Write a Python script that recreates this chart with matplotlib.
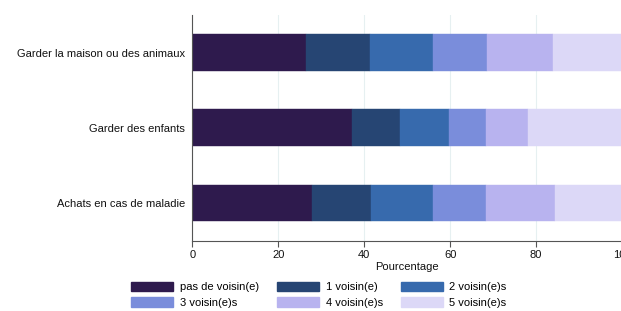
import matplotlib
matplotlib.use("Agg")
import matplotlib.pyplot as plt
from matplotlib.patches import Patch

plt.rcParams['font.family'] = ['Liberation Sans', 'DejaVu Sans']

categories = ["Garder la maison ou des animaux", "Garder des enfants", "Achats en cas de maladie"]
series_names = ["pas de voisin(e)", "1 voisin(e)", "2 voisin(e)s", "3 voisin(e)s", "4 voisin(e)s", "5 voisin(e)s"]
values = {
    "pas de voisin(e)": [26.5, 37.2, 27.9],
    "1 voisin(e)":      [14.9, 11.2, 13.7],
    "2 voisin(e)s":     [14.6, 11.3, 14.5],
    "3 voisin(e)s":     [12.6, 8.7, 12.3],
    "4 voisin(e)s":     [15.3, 9.8, 15.9],
    "5 voisin(e)s":     [16.1, 21.8, 15.7],
}
colors = ["#2E1A4D", "#264573", "#376AAD", "#7A8DDB", "#B8B3EF", "#DCD8F7"]
xticks = [0, 20, 40, 60, 80, 100]

W, H = 621, 311
fig = plt.figure(figsize=(W / 100, H / 100), dpi=100)
ax = fig.add_axes([192.3 / W, (H - 240.5) / H, (622 - 192.3) / W, (240.5 - 15) / H])

ypos = list(range(len(categories)))
left = [0.0] * len(categories)
for name, c in zip(series_names, colors):
    v = values[name]
    ax.barh(ypos, v, left=left, height=0.49, color=c, edgecolor=c, linewidth=0.3, label=name, zorder=2)
    left = [l + x for l, x in zip(left, v)]

ax.set_xlim(0, 100)
ax.set_ylim(2.5, -0.5)
ax.set_yticks(ypos)
ax.set_yticklabels(categories, fontsize=8, color="#111111")
ax.set_xticks(xticks)
ax.set_xticklabels([str(t) for t in xticks], fontsize=8, color="#111111")
ax.tick_params(axis='y', length=0, pad=5)
ax.tick_params(axis='x', length=4, width=0.8, color="#555555", pad=3)
ax.set_xlabel("Pourcentage", fontsize=8, labelpad=1.5, color="#111111")
ax.grid(axis='x', color="#E6F0F1", linewidth=0.8, zorder=0)
ax.set_axisbelow(True)
for s in ["top", "right"]:
    ax.spines[s].set_visible(False)
for s in ["left", "bottom"]:
    ax.spines[s].set_color("#555555")
    ax.spines[s].set_linewidth(0.8)

handles = [Patch(facecolor=c, edgecolor=c) for c in colors]
order = [0, 3, 1, 4, 2, 5]
leg = fig.legend([handles[i] for i in order], [series_names[i] for i in order],
                 ncol=3, loc='upper left', bbox_to_anchor=(131 / W, 1 - 281.5 / H),
                 frameon=False, fontsize=8, handlelength=3.8, handleheight=1.0,
                 handletextpad=0.6, columnspacing=1.6, labelspacing=0.45,
                 borderpad=0, borderaxespad=0)

fig.savefig("out.png", dpi=100)
